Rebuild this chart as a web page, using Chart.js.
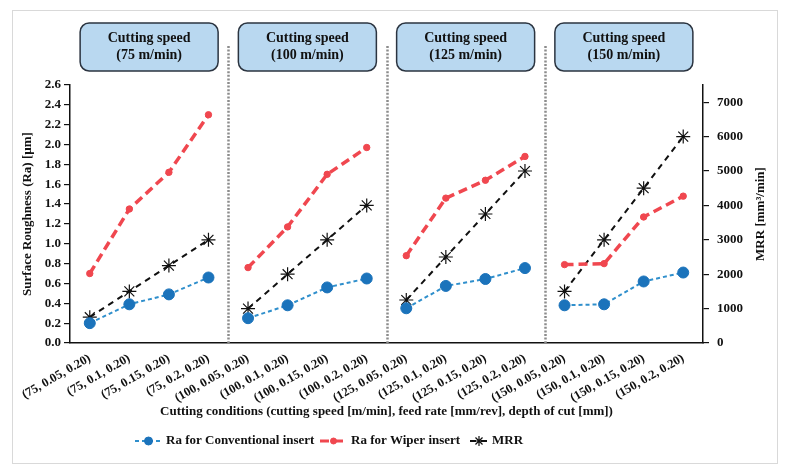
<!DOCTYPE html>
<html>
<head>
<meta charset="utf-8">
<script src="https://cdn.jsdelivr.net/npm/chart.js@4.4.1/dist/chart.umd.min.js"></script>
<style>
  html, body { margin: 0; padding: 0; background: #fff; }
  #wrap { width: 787px; height: 472px; }
</style>
</head>
<body>
<div id="wrap"><canvas id="chart" width="787" height="472"></canvas></div>
<script>
// cutting conditions: (speed, feed, depth)
const conditions = [
    '(75, 0.05, 0.20)', '(75, 0.1, 0.20)', '(75, 0.15, 0.20)', '(75, 0.2, 0.20)',
    '(100, 0.05, 0.20)', '(100, 0.1, 0.20)', '(100, 0.15, 0.20)', '(100, 0.2, 0.20)',
    '(125, 0.05, 0.20)', '(125, 0.1, 0.20)', '(125, 0.15, 0.20)', '(125, 0.2, 0.20)',
    '(150, 0.05, 0.20)', '(150, 0.1, 0.20)', '(150, 0.15, 0.20)', '(150, 0.2, 0.20)'
];
const speedGroups = ['75 m/min', '100 m/min', '125 m/min', '150 m/min'];
const groupSize = 4;

const raConventional = [0.20, 0.39, 0.49, 0.66, 0.25, 0.38, 0.56, 0.65, 0.35, 0.575, 0.645, 0.755, 0.38, 0.39, 0.62, 0.71];
const raWiper = [0.70, 1.35, 1.72, 2.30, 0.76, 1.17, 1.70, 1.97, 0.88, 1.46, 1.64, 1.88, 0.79, 0.80, 1.27, 1.48];
const mrr = [750, 1500, 2250, 3000, 1000, 2000, 3000, 4000, 1250, 2500, 3750, 5000, 1500, 3000, 4500, 6000];

const raMax = 2.6;
const raStep = 0.2;
const mrrMax = 7500;
const mrrTicks = [0, 1000, 2000, 3000, 4000, 5000, 6000, 7000];

const serif = '"Liberation Serif", "Times New Roman", serif';
const tickFont = { family: serif, size: 13, weight: 'bold' };

// no line between the last point of one speed group and the first of the next
const groupBreak = { borderColor: ctx => (ctx.p1DataIndex % groupSize === 0 ? 'transparent' : undefined) };

// outer frame, group separators, header boxes, axis titles, legend
const decorations = {
    id: 'decorations',
    beforeDraw(chart) {
        const ctx = chart.ctx;
        ctx.save();
        ctx.fillStyle = '#fff';
        ctx.fillRect(0, 0, chart.width, chart.height);
        ctx.strokeStyle = '#d9d9d9';
        ctx.lineWidth = 1;
        ctx.strokeRect(12.5, 10.5, 765, 453);
        ctx.restore();
    },
    beforeDatasetsDraw(chart) {
        const ctx = chart.ctx;
        const x = chart.scales.x;
        const area = chart.chartArea;
        ctx.save();
        ctx.strokeStyle = '#8c8c8c';
        ctx.lineWidth = 2.5;
        ctx.setLineDash([2, 1.6]);
        for (let g = 1; g < speedGroups.length; g++) {
            const px = Math.round(x.getPixelForValue(g * groupSize - 0.5)) + 0.5;
            ctx.beginPath();
            ctx.moveTo(px, 46);
            ctx.lineTo(px, area.bottom);
            ctx.stroke();
        }
        ctx.restore();
    },
    afterDraw(chart) {
        const ctx = chart.ctx;
        const x = chart.scales.x;
        const area = chart.chartArea;
        ctx.save();

        // header boxes
        speedGroups.forEach((label, g) => {
            const cx = (x.getPixelForValue(g * groupSize) + x.getPixelForValue(g * groupSize + groupSize - 1)) / 2;
            const w = 138, h = 48, top = 23;
            ctx.beginPath();
            ctx.roundRect(cx - w / 2, top, w, h, 9);
            ctx.fillStyle = '#b9d8f0';
            ctx.fill();
            ctx.strokeStyle = '#2b3440';
            ctx.lineWidth = 1.5;
            ctx.stroke();
            ctx.fillStyle = '#111';
            ctx.font = 'bold 14px ' + serif;
            ctx.textAlign = 'center';
            ctx.textBaseline = 'middle';
            ctx.fillText('Cutting speed', cx, top + 15);
            ctx.fillText('(' + label + ')', cx, top + 32);
        });

        // axis titles
        ctx.fillStyle = '#111';
        ctx.font = 'bold 13px ' + serif;
        ctx.textAlign = 'center';
        ctx.textBaseline = 'middle';
        const midY = (area.top + area.bottom) / 2;
        ctx.save();
        ctx.translate(28, midY);
        ctx.rotate(-Math.PI / 2);
        ctx.fillText('Surface Roughness (Ra) [µm]', 0, 0);
        ctx.restore();
        ctx.save();
        ctx.translate(761, midY);
        ctx.rotate(-Math.PI / 2);
        ctx.fillText('MRR [mm³/min]', 0, 0);
        ctx.restore();
        ctx.fillText('Cutting conditions (cutting speed [m/min], feed rate [mm/rev], depth of cut [mm])', (area.left + area.right) / 2, 412);

        // legend
        const items = [
            { ds: chart.data.datasets[0], x0: 135, x1: 162, r: 4 },
            { ds: chart.data.datasets[1], x0: 320, x1: 347, r: 3 },
            { ds: chart.data.datasets[2], x0: 470, x1: 488, r: 5 }
        ];
        const ly = 441;
        items.forEach(it => {
            const ds = it.ds;
            ctx.save();
            ctx.strokeStyle = ds.borderColor;
            ctx.lineWidth = Math.min(ds.borderWidth, 3);
            ctx.setLineDash(ds.borderDash);
            ctx.beginPath();
            ctx.moveTo(it.x0, ly);
            ctx.lineTo(it.x1, ly);
            ctx.stroke();
            ctx.restore();
            ctx.save();
            ctx.fillStyle = ds.pointBackgroundColor;
            ctx.strokeStyle = ds.pointBorderColor;
            ctx.lineWidth = ds.pointBorderWidth;
            Chart.helpers.drawPoint(ctx, {
                pointStyle: ds.pointStyle || 'circle',
                radius: it.r,
                borderWidth: ds.pointBorderWidth,
                rotation: 0
            }, (it.x0 + it.x1) / 2, ly);
            ctx.restore();
            ctx.fillStyle = '#111';
            ctx.font = 'bold 13px ' + serif;
            ctx.textAlign = 'left';
            ctx.textBaseline = 'middle';
            ctx.fillText(ds.label, it.x1 + 4, ly);
        });
        ctx.restore();
    }
};

new Chart(document.getElementById('chart'), {
    type: 'line',
    data: {
        labels: conditions,
        datasets: [
            {
                label: 'Ra for Conventional insert',
                data: raConventional,
                yAxisID: 'y',
                borderColor: '#2f8fcc',
                borderWidth: 2,
                borderDash: [4, 3],
                pointRadius: 5.5,
                pointBackgroundColor: '#1b73bb',
                pointBorderColor: '#1b73bb',
                pointBorderWidth: 1,
                tension: 0,
                segment: groupBreak
            },
            {
                label: 'Ra for Wiper insert',
                data: raWiper,
                yAxisID: 'y',
                borderColor: '#f0474f',
                borderWidth: 3.5,
                borderDash: [9, 5],
                pointRadius: 3.2,
                pointBackgroundColor: '#f0474f',
                pointBorderColor: '#f0474f',
                pointBorderWidth: 1,
                tension: 0,
                segment: groupBreak
            },
            {
                label: 'MRR',
                data: mrr,
                yAxisID: 'y1',
                borderColor: '#111',
                borderWidth: 2,
                borderDash: [6, 5],
                pointStyle: 'star',
                pointRadius: 7,
                pointBackgroundColor: '#111',
                pointBorderColor: '#111',
                pointBorderWidth: 1.2,
                tension: 0,
                segment: groupBreak
            }
        ]
    },
    options: {
        responsive: false,
        animation: false,
        devicePixelRatio: 1,
        layout: { padding: { top: 85, left: 0, right: 0, bottom: 0 } },
        plugins: {
            legend: { display: false },
            tooltip: { enabled: false }
        },
        scales: {
            x: {
                type: 'category',
                offset: true,
                grid: { display: false },
                border: { color: '#111', width: 1.5 },
                ticks: {
                    autoSkip: false,
                    minRotation: 30,
                    maxRotation: 30,
                    padding: 0,
                    color: '#111',
                    font: { family: serif, size: 12.5, weight: 'bold' }
                },
                afterFit(s) {
                    s.height = 129;
                    s.paddingLeft = 0;
                    s.paddingRight = 0;
                }
            },
            y: {
                position: 'left',
                min: 0,
                max: raMax,
                grid: { drawOnChartArea: false, color: '#111', tickLength: 6, lineWidth: 1.2 },
                border: { color: '#111', width: 1.5 },
                ticks: {
                    stepSize: raStep,
                    padding: 3,
                    color: '#111',
                    font: tickFont,
                    callback: v => Number(v).toFixed(1)
                },
                afterFit(s) { s.width = 70; }
            },
            y1: {
                position: 'right',
                min: 0,
                max: mrrMax,
                grid: { drawOnChartArea: false, color: '#111', tickLength: 6, lineWidth: 1.2 },
                border: { color: '#111', width: 1.5 },
                ticks: {
                    padding: 8,
                    color: '#111',
                    font: tickFont,
                    callback: v => String(v)
                },
                afterBuildTicks(s) {
                    s.ticks = mrrTicks.map(v => ({ value: v }));
                },
                afterFit(s) { s.width = 84; }
            }
        }
    },
    plugins: [decorations]
});
</script>
</body>
</html>
